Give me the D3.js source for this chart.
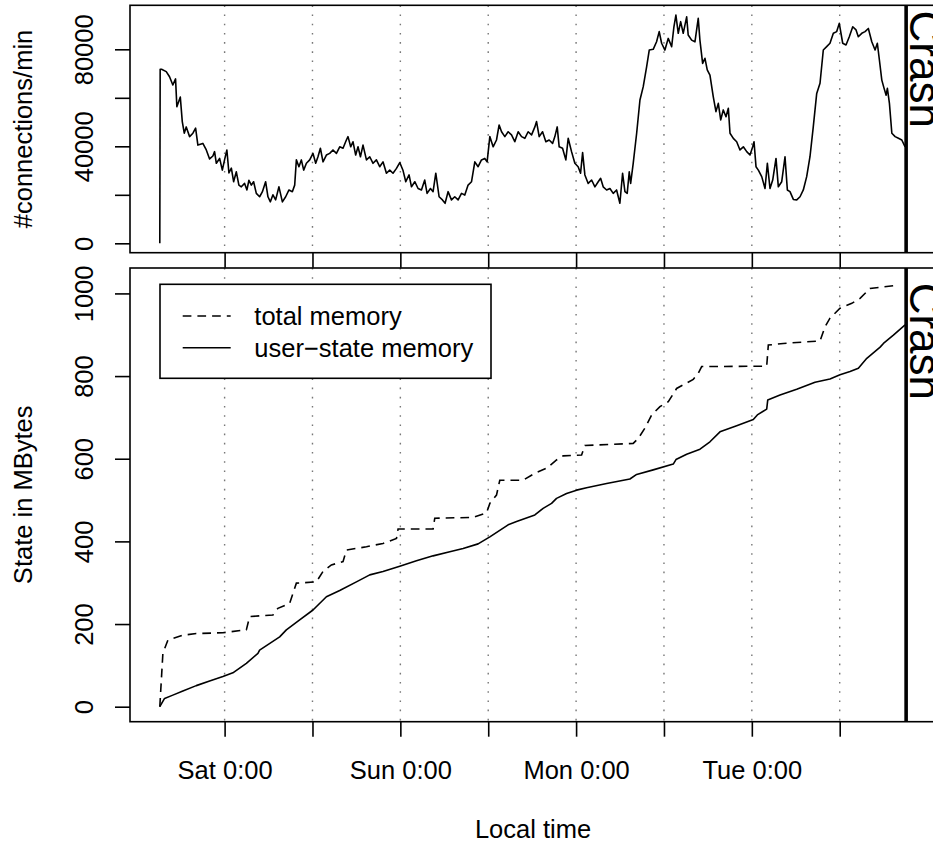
<!DOCTYPE html>
<html lang="en">
<head>
<meta charset="UTF-8">
<title>connections and state memory</title>
<script src="https://cdn.jsdelivr.net/npm/d3@7"></script>
<style>
  body { margin: 0; background: #fff; }
  text { font-family: "Liberation Sans", Arial, Helvetica, sans-serif; fill: #000; }
</style>
</head>
<body>
<div id="chart"></div>
<script>
// time in hours relative to Sat 0:00
var connHours = [
  -8.85,-8.80,-8.61,-7.97,-7.52,-7.07,-6.70,-6.52,-6.05,-5.78,
  -5.51,-5.24,-4.78,-4.33,-3.96,-3.65,-2.97,-2.50,-2.05,-1.60,
  -1.37,-1.13,-0.68,-0.31,0.00,0.31,0.59,0.92,1.23,1.60,
  1.95,2.28,2.73,3.05,3.32,3.65,3.96,4.33,4.78,5.15,
  5.60,5.92,6.25,6.60,6.97,7.42,7.89,8.34,8.79,9.25,
  9.57,9.80,10.15,10.48,10.80,11.17,11.62,12.07,12.44,12.75,
  13.08,13.44,13.90,14.35,14.80,15.27,15.72,16.17,16.63,16.85,
  17.22,17.53,17.90,18.22,18.55,18.90,19.37,19.82,20.27,20.73,
  21.18,21.63,22.10,22.55,23.00,23.47,23.92,24.37,24.74,25.19,
  25.52,25.97,26.42,26.88,27.33,27.65,28.11,28.47,28.84,29.29,
  29.75,30.11,30.52,30.98,31.43,31.89,32.35,32.80,33.25,33.72,
  34.17,34.62,35.08,35.53,35.85,36.22,36.67,37.13,37.49,37.82,
  38.27,38.72,39.18,39.63,40.09,40.55,41.00,41.45,41.92,42.37,
  42.60,42.96,43.42,43.87,44.32,44.79,45.10,45.42,45.69,46.15,
  46.60,46.92,47.38,47.83,48.28,48.61,48.89,49.20,49.65,50.12,
  50.57,51.02,51.35,51.70,52.17,52.62,53.07,53.53,53.98,54.35,
  54.67,54.98,55.26,55.45,55.80,56.27,56.72,57.17,57.63,57.99,
  58.53,58.99,59.35,59.68,60.13,60.58,61.05,61.36,61.63,61.95,
  62.28,62.63,63.10,63.31,63.78,64.23,64.68,64.91,65.28,65.60,
  65.91,66.28,66.73,67.10,67.42,67.75,68.10,68.47,68.79,69.02,
  69.47,69.93,70.38,70.84,71.30,71.75,72.12,72.30,72.57,72.89,
  73.35,73.80,74.12,74.48,74.85,75.30,75.62,76.08,76.53,76.85,
  77.21,77.67,78.13,78.58,79.03,79.49,79.94,80.39,80.86,81.31,
  81.76,82.22,82.67,83.13,83.59,83.94,84.41,84.86,85.31,85.78,
  86.23,86.54,87.01,87.46,87.91,88.38,88.83,89.14,89.42,89.75,
  90.06,90.34,90.51,90.79,91.12,91.57,92.02,92.48,92.93
];
var connValues = [
  0,71800,71800,70800,68700,65300,67800,56300,60300,50200,
  45400,48000,44000,45400,47500,40500,41200,38500,34800,36000,
  37800,33000,35000,30200,34500,38500,29000,31000,25400,29500,
  24000,23300,24700,22000,26000,24000,25400,20600,19200,21200,
  25400,19200,17100,20000,17900,23300,17100,19200,22000,21300,
  24000,34400,31600,34400,30200,33000,34400,37100,33000,35700,
  39200,33600,36400,37100,38500,37100,39800,39200,42600,44000,
  39800,41900,36400,39800,35700,40500,34400,35700,33000,34400,
  31600,33600,28900,30200,28900,30900,33300,30000,25400,28200,
  23300,25400,22600,22000,26100,20600,22600,21300,28900,19200,
  17900,16500,21300,17900,19200,17900,20600,19900,24000,25400,
  33600,31600,34400,35000,33600,44000,39800,42600,48800,46000,
  44000,46000,44700,41900,46000,44000,43300,46000,44700,48000,
  50200,44000,46000,41900,42600,41200,44000,48000,39800,39200,
  34400,43300,37800,33000,31600,28900,37400,28200,24700,26100,
  23300,25400,26800,23300,22000,22600,20600,22000,16500,28900,
  21300,20600,29500,24700,33000,45400,59100,64600,72800,79700,
  80000,83100,87300,82500,79700,84500,81100,89300,94100,86600,
  91400,86600,93400,85900,83800,83100,92800,83800,74200,76300,
  71500,69400,60500,54300,57700,50900,55000,52200,55700,45400,
  43300,41900,38500,39800,37800,36400,39800,41900,31600,30200,
  27500,22600,33000,22600,26100,35000,23300,25400,35700,22000,
  21300,18100,17900,19200,22000,27500,35700,48000,61800,66000,
  79700,81100,82500,86600,87300,90700,82500,81800,85200,89300,
  88000,85200,86600,87300,88600,83100,79700,82500,75600,67300,
  63900,61100,63900,57700,45400,44000,43300,42600,39800
];

// state memory in MBytes
var userHours = [-8.85,-8.20,-7.07,-5.70,-3.87,-2.05,-0.23,1.13,2.97,4.55,4.78,7.52,8.43,10.25,12.07,
  13.90,15.72,18.00,19.82,21.63,23.92,26.20,28.47,30.75,32.57,34.62,36.22,38.72,39.87,42.37,43.50,
  44.65,45.33,46.70,48.07,49.43,52.17,55.35,56.27,58.53,61.27,61.64,63.10,64.92,66.28,67.65,69.93,
  72.20,72.75,74.03,74.17,75.85,78.13,80.63,82.67,84.04,85.41,86.55,87.70,89.52,89.97,91.33,92.93];
var userMB = [0,20,28,38,51,62,73,82,105,129,137,169,186,210,234,
  266,281,302,319,327,340,353,365,375,383,394,411,440,448,464,480,
  492,504,516,524,530,540,551,562,573,587,598,611,623,641,665,680,
  695,706,720,742,754,768,785,793,803,811,819,843,870,879,899,924];

var totalHours = [-8.85,-8.43,-7.75,-5.70,-3.87,-0.23,2.97,3.42,6.60,7.28,8.88,9.80,12.53,13.43,14.58,
  16.17,16.63,19.37,21.63,23.47,23.69,28.47,28.70,33.93,35.77,36.22,37.13,37.58,40.77,42.37,
  43.97,45.33,46.24,48.75,49.20,55.80,56.48,57.40,58.32,59.45,60.59,61.73,64.00,64.69,65.15,
  74.03,74.25,76.30,81.31,81.99,82.67,84.04,85.65,86.78,87.92,88.14,92.02];
var totalMB = [0,129,161,173,177,179,186,218,222,238,250,299,302,327,343,
  351,379,387,395,407,430,430,456,458,469,492,512,548,548,565,
  577,597,607,609,632,637,649,674,706,726,738,770,792,807,823,
  824,875,879,885,919,940,964,976,988,1008,1012,1020];

var crashHour = 93.07;
var timeTicks = [0, 12, 24, 36, 48, 60, 72, 84];
var dayTicks = [0, 24, 48, 72];
var dayNames = ["Sat 0:00", "Sun 0:00", "Mon 0:00", "Tue 0:00"];
var connTicks = [0, 20000, 40000, 60000, 80000];
var connLabelTicks = [0, 40000, 80000];
var memTicks = [0, 200, 400, 600, 800, 1000];
var legendNames = ["total memory", "user\u2212state memory"];

var width = 933, height = 843;
var fontSize = 25.5;
var lw = 1.6;
var top1 = 5.3, bot1 = 252.7, top2 = 268, bot2 = 721.7;
var left = 130, right = 936;

var svg = d3.select("#chart").append("svg")
    .attr("width", width)
    .attr("height", height);

// scales
var x = d3.scaleLinear().domain([-12.92, 97.15]).range([left, right]);
var yConn = d3.scaleLinear().domain([-3870, 98150]).range([bot1, top1]);
var yMem = d3.scaleLinear().domain([-36.3, 1061.5]).range([bot2, top2]);

function styleAxis(g) {
    g.select(".domain").remove();
    g.attr("font-family", null).attr("font-size", fontSize).attr("color", "#000");
    g.selectAll(".tick line").attr("stroke-width", lw);
}

function panel(yTop, yBot) {
    // dotted day/half-day lines
    svg.append("g").selectAll("line")
        .data(timeTicks).enter().append("line")
        .attr("x1", function (d) { return x(d); })
        .attr("x2", function (d) { return x(d); })
        .attr("y1", yTop).attr("y2", yBot)
        .attr("stroke", "#777")
        .attr("stroke-width", 1.4)
        .attr("stroke-dasharray", "1.6,7.6");
    // crash marker
    svg.append("line")
        .attr("x1", x(crashHour)).attr("x2", x(crashHour))
        .attr("y1", yTop).attr("y2", yBot)
        .attr("stroke", "#000").attr("stroke-width", 3.6);
    // frame
    svg.append("rect")
        .attr("x", left).attr("y", yTop)
        .attr("width", right - left).attr("height", yBot - yTop)
        .attr("fill", "none").attr("stroke", "#000").attr("stroke-width", lw);
}

panel(top1, bot1);
panel(top2, bot2);

// top: connections
var connLine = d3.line()
    .x(function (d, i) { return x(connHours[i]); })
    .y(function (d) { return yConn(d); });
svg.append("path")
    .attr("d", connLine(connValues))
    .attr("fill", "none").attr("stroke", "#000")
    .attr("stroke-width", lw).attr("stroke-linejoin", "round");

// bottom: memory
var userLine = d3.line()
    .x(function (d, i) { return x(userHours[i]); })
    .y(function (d) { return yMem(d); });
var totalLine = d3.line()
    .x(function (d, i) { return x(totalHours[i]); })
    .y(function (d) { return yMem(d); });
svg.append("path")
    .attr("d", totalLine(totalMB))
    .attr("fill", "none").attr("stroke", "#000")
    .attr("stroke-width", lw).attr("stroke-dasharray", "8.7,6");
svg.append("path")
    .attr("d", userLine(userMB))
    .attr("fill", "none").attr("stroke", "#000")
    .attr("stroke-width", lw).attr("stroke-linejoin", "round");

// axes
svg.append("g")
    .attr("transform", "translate(0," + bot1 + ")")
    .call(d3.axisBottom(x).tickValues(timeTicks).tickSize(15).tickFormat(""))
    .call(styleAxis);

var xAxis = svg.append("g")
    .attr("transform", "translate(0," + bot2 + ")")
    .call(d3.axisBottom(x).tickValues(timeTicks).tickSize(15)
        .tickFormat(function (d) {
            var k = dayTicks.indexOf(d);
            return k < 0 ? "" : dayNames[k];
        }))
    .call(styleAxis);
xAxis.selectAll("text").attr("y", 57).attr("dy", null);

var yAxis1 = svg.append("g")
    .attr("transform", "translate(" + left + ",0)")
    .call(d3.axisLeft(yConn).tickValues(connTicks).tickSize(15)
        .tickFormat(function (d) { return connLabelTicks.indexOf(d) < 0 ? "" : d3.format("d")(d); }))
    .call(styleAxis);
var yAxis2 = svg.append("g")
    .attr("transform", "translate(" + left + ",0)")
    .call(d3.axisLeft(yMem).tickValues(memTicks).tickSize(15).tickFormat(d3.format("d")))
    .call(styleAxis);
[yAxis1, yAxis2].forEach(function (g) {
    g.selectAll("text")
        .attr("x", null).attr("dy", null)
        .attr("text-anchor", "middle")
        .attr("transform", "translate(-37,0) rotate(-90)");
});

// axis titles
svg.append("text")
    .attr("transform", "translate(32," + (top1 + bot1) / 2 + ") rotate(-90)")
    .attr("text-anchor", "middle").attr("font-size", fontSize)
    .text("#connections/min");
svg.append("text")
    .attr("transform", "translate(32," + (top2 + bot2) / 2 + ") rotate(-90)")
    .attr("text-anchor", "middle").attr("font-size", fontSize)
    .text("State in MBytes");
svg.append("text")
    .attr("x", (left + right) / 2).attr("y", 838)
    .attr("text-anchor", "middle").attr("font-size", fontSize)
    .text("Local time");

// crash labels (run off the right edge, as in the original)
svg.append("text")
    .attr("transform", "translate(" + (x(crashHour) + 4) + "," + yConn(96000) + ") rotate(90)")
    .attr("font-size", 44)
    .text("Crash");
svg.append("text")
    .attr("transform", "translate(" + (x(crashHour) + 4) + "," + yMem(1026) + ") rotate(90)")
    .attr("font-size", 44)
    .text("Crash");

// legend
var legend = svg.append("g");
legend.append("rect")
    .attr("x", 160).attr("y", 284.3).attr("width", 331).attr("height", 94)
    .attr("fill", "#fff").attr("stroke", "#000").attr("stroke-width", lw);
var rows = legend.selectAll("g.row")
    .data(legendNames).enter().append("g")
    .attr("class", "row")
    .attr("transform", function (d, i) { return "translate(0," + (316 + i * 31.7) + ")"; });
rows.append("line")
    .attr("x1", 182.7).attr("x2", 230.7)
    .attr("stroke", "#000").attr("stroke-width", lw)
    .attr("stroke-dasharray", function (d, i) { return i === 0 ? "8.7,6" : null; });
rows.append("text")
    .attr("x", 254.3).attr("dy", "0.35em")
    .attr("font-size", fontSize)
    .text(function (d) { return d; });
</script>
</body>
</html>
